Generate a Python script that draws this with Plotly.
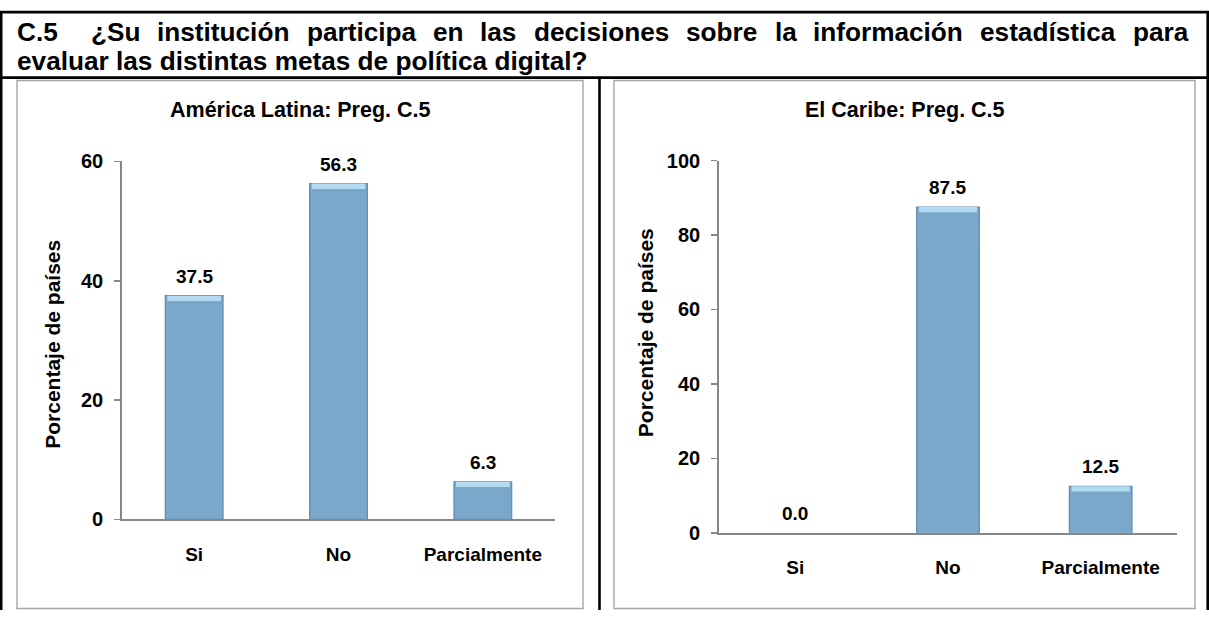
import plotly.graph_objects as go

W, H = 1209, 621

# ---- data ----
cats = ["Si", "No", "Parcialmente"]
latam_vals = [37.5, 56.3, 6.3]
caribe_vals = [0.0, 87.5, 12.5]
latam_ticks = [0, 20, 40, 60]
caribe_ticks = [0, 20, 40, 60, 80, 100]
title_line1 = ["C.5", "¿Su", "institución", "participa", "en", "las", "decisiones",
               "sobre", "la", "información", "estadística", "para"]
title_line2 = "evaluar las distintas metas de política digital?"
chart_titles = ["América Latina: Preg. C.5", "El Caribe: Preg. C.5"]
y_title = "Porcentaje de países"

# ---- styles ----
BAR = "#7aa7ca"
BAR_EDGE = "#5f8bb0"
BEVEL = "#b3dbf1"
AXIS = "#878787"
FRAME = "#a6a6a6"
ARIAL = "Liberation Sans, Arial, sans-serif"


def px(x):
    return x / W


def py(y):
    return 1 - y / H


# Arial/Liberation Sans Bold advance widths (per 1000 em) for justifying line 1
AW = {' ': 278, '.': 278, '5': 556, '?': 611, '¿': 611, 'C': 722, 'S': 667,
      'a': 556, 'b': 611, 'c': 556, 'd': 611, 'e': 556, 'f': 333, 'g': 611,
      'i': 278, 'j': 278, 'l': 278, 'm': 889, 'n': 611, 'o': 611, 'p': 611,
      'r': 389, 's': 556, 't': 333, 'u': 611, 'v': 556, 'ó': 611, 'í': 278}


def tw(s, size):
    return sum(AW.get(c, 556) for c in s) * size / 1000


fig = go.Figure()

panels = [
    (latam_vals, "x", "y", 0.40, 0.9),
    (caribe_vals, "x2", "y2", 0.41, 1.4),
]
for vals, xa, ya, bw, bev in panels:
    fig.add_trace(go.Bar(
        x=cats, y=vals, xaxis=xa, yaxis=ya, width=bw,
        marker=dict(color=BAR, line=dict(color=BAR_EDGE,
                                         width=[1.2 if v > 0 else 0 for v in vals])),
        hoverinfo="skip",
    ))
    # bevel highlight on top of each bar
    fig.add_trace(go.Bar(
        x=cats, y=[bev if v > 0 else 0 for v in vals],
        base=[v - bev if v > 0 else 0 for v in vals],
        xaxis=xa, yaxis=ya, width=bw * 0.93,
        marker=dict(color=BEVEL, line=dict(width=0)),
        hoverinfo="skip",
    ))

annotations = []

# data labels
for vals, xr, yr in [(latam_vals, "x", "y"), (caribe_vals, "x2", "y2")]:
    for c, v in zip(cats, vals):
        annotations.append(dict(
            x=c, y=v, xref=xr, yref=yr, text=f"{v:.1f}", showarrow=False,
            yanchor="bottom", yshift=7,
            font=dict(family=ARIAL, size=19, color="black", weight="bold"),
        ))

# main title, line 1 justified word by word
TS = 26.2
x0, x1 = 17, 1188
tab_extra = 16
widths = [tw(w, TS) for w in title_line1]
gap = (x1 - x0 - sum(widths) - tab_extra) / (len(title_line1) - 1)
cur = x0
for i, (w, wd) in enumerate(zip(title_line1, widths)):
    annotations.append(dict(
        x=px(cur), y=py(22), xref="paper", yref="paper", text=w, showarrow=False,
        xanchor="left", yanchor="middle", borderpad=0, borderwidth=0,
        font=dict(family=ARIAL, size=TS, color="black", weight="bold"),
    ))
    cur += wd + gap + (tab_extra if i == 0 else 0)

annotations.append(dict(
    x=px(x0), y=py(52), xref="paper", yref="paper", text=title_line2, showarrow=False,
    xanchor="left", yanchor="middle", borderpad=0, borderwidth=0,
    font=dict(family=ARIAL, size=TS, color="black", weight="bold"),
))

# chart titles
for t, cx in zip(chart_titles, [300, 905]):
    annotations.append(dict(
        x=px(cx), y=py(103), xref="paper", yref="paper", text=t, showarrow=False,
        xanchor="center", yanchor="middle",
        font=dict(family=ARIAL, size=21.5, color="black", weight="bold"),
    ))

# y-axis titles
for cx, cy in [(53, 346), (645, 334)]:
    annotations.append(dict(
        x=px(cx), y=py(cy), xref="paper", yref="paper", text=y_title, showarrow=False,
        textangle=-90, xanchor="center", yanchor="middle",
        font=dict(family=ARIAL, size=21, color="black", weight="bold"),
    ))


def hline(y, xa, xb, color, width):
    return dict(type="line", xref="paper", yref="paper", x0=px(xa), x1=px(xb),
                y0=py(y), y1=py(y), line=dict(color=color, width=width))


def vline(x, ya, yb, color, width):
    return dict(type="line", xref="paper", yref="paper", x0=px(x), x1=px(x),
                y0=py(ya), y1=py(yb), line=dict(color=color, width=width))


shapes = [
    # outer border: top, left, right
    hline(1.2, 0, W, "black", 2.6),
    vline(1.2, 0, H, "black", 2.6),
    vline(1207.7, 0, H, "black", 2.6),
    # title separator
    hline(69, 0, W, "black", 2.7),
    # column divider
    vline(599.5, 69, H, "black", 2.6),
    # chart frames
    dict(type="rect", xref="paper", yref="paper", x0=px(17), x1=px(583),
         y0=py(619.5), y1=py(72), line=dict(color=FRAME, width=1.4)),
    dict(type="rect", xref="paper", yref="paper", x0=px(614), x1=px(1195),
         y0=py(619.5), y1=py(72), line=dict(color=FRAME, width=1.4)),
]

xcommon = dict(
    showline=True, linecolor=AXIS, linewidth=1.8, ticks="", showgrid=False,
    zeroline=False, range=[-0.5, 2.5], ticklabelstandoff=17,
    tickfont=dict(family=ARIAL, size=19, color="black", weight="bold"),
    fixedrange=True,
)
ycommon = dict(
    showline=True, linecolor=AXIS, linewidth=1.8, ticks="outside", ticklen=6,
    tickcolor=AXIS, tickwidth=1.5, showgrid=False, zeroline=False,
    ticklabelstandoff=7,
    tickfont=dict(family=ARIAL, size=20, color="black", weight="bold"),
    fixedrange=True,
)

fig.update_layout(
    width=W, height=H, margin=dict(l=0, r=0, t=0, b=0),
    paper_bgcolor="white", plot_bgcolor="white",
    showlegend=False, barmode="overlay",
    xaxis=dict(domain=[px(122), px(555)], anchor="y", **xcommon),
    yaxis=dict(domain=[py(527), py(156)], anchor="x", range=[0, 60],
               tickvals=latam_ticks, **ycommon),
    xaxis2=dict(domain=[px(719), px(1177)], anchor="y2", **xcommon),
    yaxis2=dict(domain=[py(541), py(155)], anchor="x2", range=[0, 100],
                tickvals=caribe_ticks, **ycommon),
    annotations=annotations,
    shapes=shapes,
)

page_css = ("document.documentElement.style.margin='0';"
            "document.body.style.margin='0';"
            "document.body.style.padding='0';"
            "document.body.style.overflow='hidden';")
fig.write_html("out.html", post_script=page_css,
               config={"displayModeBar": False, "staticPlot": True})
